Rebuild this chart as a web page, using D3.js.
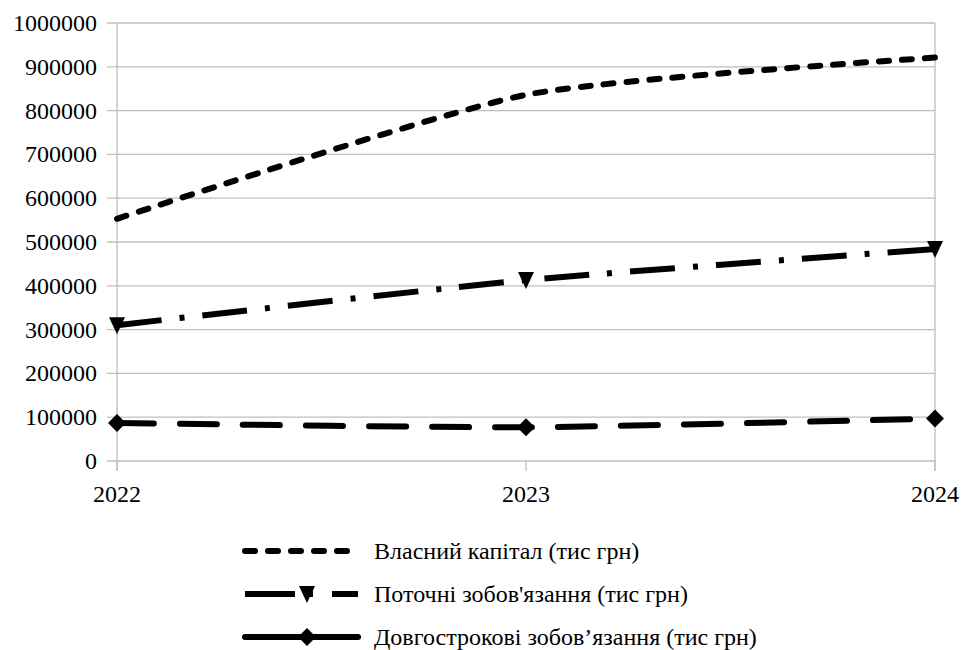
<!DOCTYPE html>
<html>
<head>
<meta charset="utf-8">
<script src="https://cdn.jsdelivr.net/npm/d3@7/dist/d3.min.js"></script>
</head>
<body style="margin:0">
<svg id="chart" width="964" height="650" style="display:block;font-family:'Liberation Serif'"></svg>
<script>
const years = ["2022", "2023", "2024"];
const equity = [553000, 836000, 921000];
const currentLiab = [310000, 413000, 484000];
const longTermLiab = [87000, 77000, 97000];
const yTicks = [0, 100000, 200000, 300000, 400000, 500000, 600000, 700000, 800000, 900000, 1000000];
const seriesNames = ["Власний капітал (тис грн)", "Поточні зобов'язання (тис грн)", "Довгострокові зобов’язання (тис грн)"];

const FONT = "'Liberation Serif'";
const series = [
  { name: seriesNames[0], values: equity, dash: "10,13", cap: "round", width: 6, marker: null },
  { name: seriesNames[1], values: currentLiab, dash: "45,18,5,18", cap: "butt", width: 6, marker: "triangle" },
  { name: seriesNames[2], values: longTermLiab, dash: "37,26", cap: "round", width: 6, marker: "diamond" }
];

const svg = d3.select("#chart");
const pLeft = 117, pRight = 935, pTop = 23, pBottom = 461;
const grid = "#bfbfbf";

const x = d3.scalePoint().domain(years).range([pLeft, pRight]);
const y = d3.scaleLinear().domain([0, 1000000]).range([pBottom, pTop]);

svg.append("rect").attr("width", 964).attr("height", 650).attr("fill", "#fff");

// horizontal gridlines
svg.append("g").selectAll("line").data(yTicks).join("line")
  .attr("x1", pLeft - 10).attr("x2", pRight)
  .attr("y1", d => y(d)).attr("y2", d => y(d))
  .attr("stroke", grid).attr("stroke-width", 1.3);

// y axis labels
svg.append("g").selectAll("text").data(yTicks).join("text")
  .attr("x", pLeft - 20).attr("y", d => y(d) + 8)
  .attr("text-anchor", "end")
  .style("font-family", FONT)
  .attr("font-size", 24).attr("fill", "#000")
  .text(d => d3.format("d")(d));

// vertical lines (axis and right border)
svg.append("line").attr("x1", pLeft).attr("x2", pLeft).attr("y1", pTop).attr("y2", pBottom + 10)
  .attr("stroke", grid).attr("stroke-width", 1.3);
svg.append("line").attr("x1", pRight).attr("x2", pRight).attr("y1", pTop).attr("y2", pBottom + 10)
  .attr("stroke", grid).attr("stroke-width", 1.3);
// x ticks
svg.append("g").selectAll("line").data(years).join("line")
  .attr("x1", d => x(d)).attr("x2", d => x(d))
  .attr("y1", pBottom).attr("y2", pBottom + 10)
  .attr("stroke", grid).attr("stroke-width", 1.3);

// x labels
svg.append("g").selectAll("text").data(years).join("text")
  .attr("x", d => x(d)).attr("y", pBottom + 41)
  .attr("text-anchor", "middle").attr("font-size", 24).attr("fill", "#000")
  .style("font-family", FONT)
  .text(d => d);

const line = d3.line().x((d, i) => x(years[i])).y(d => y(d)).curve(d3.curveCardinal.tension(0.4));

const trianglePath = "M-8,-8L8,-8L0,9Z";
const diamondPath = "M0,-9L9,0L0,9L-9,0Z";

series.forEach(s => {
  svg.append("path").datum(s.values)
    .attr("d", line)
    .attr("fill", "none").attr("stroke", "#000")
    .attr("stroke-width", s.width)
    .attr("stroke-dasharray", s.dash)
    .attr("stroke-linecap", s.cap);
  if (s.marker) {
    svg.append("g").selectAll("path").data(s.values).join("path")
      .attr("transform", (d, i) => `translate(${x(years[i])},${y(d)})`)
      .attr("d", s.marker === "triangle" ? trianglePath : diamondPath)
      .attr("fill", "#000");
  }
});

// legend
const legX1 = 245, legX2 = 358, legTextX = 374, legMarkX = 307;
const legY = [551, 594, 637];
series.forEach((s, i) => {
  const g = svg.append("g");
  g.append("line").attr("x1", legX1).attr("x2", legX2).attr("y1", legY[i]).attr("y2", legY[i])
    .attr("stroke", "#000").attr("stroke-width", s.width)
    .attr("stroke-dasharray", i === 0 ? "10,13" : (i === 1 ? "50,13,5,19" : null))
    .attr("stroke-linecap", s.cap);
  if (s.marker) {
    g.append("path").attr("transform", `translate(${legMarkX},${legY[i]})`)
      .attr("d", s.marker === "triangle" ? trianglePath : diamondPath)
      .attr("fill", "#000");
  }
  g.append("text").attr("x", legTextX).attr("y", legY[i] + 8)
    .style("font-family", FONT)
    .attr("font-size", 24).attr("fill", "#000").text(s.name);
});
</script>
</body>
</html>
